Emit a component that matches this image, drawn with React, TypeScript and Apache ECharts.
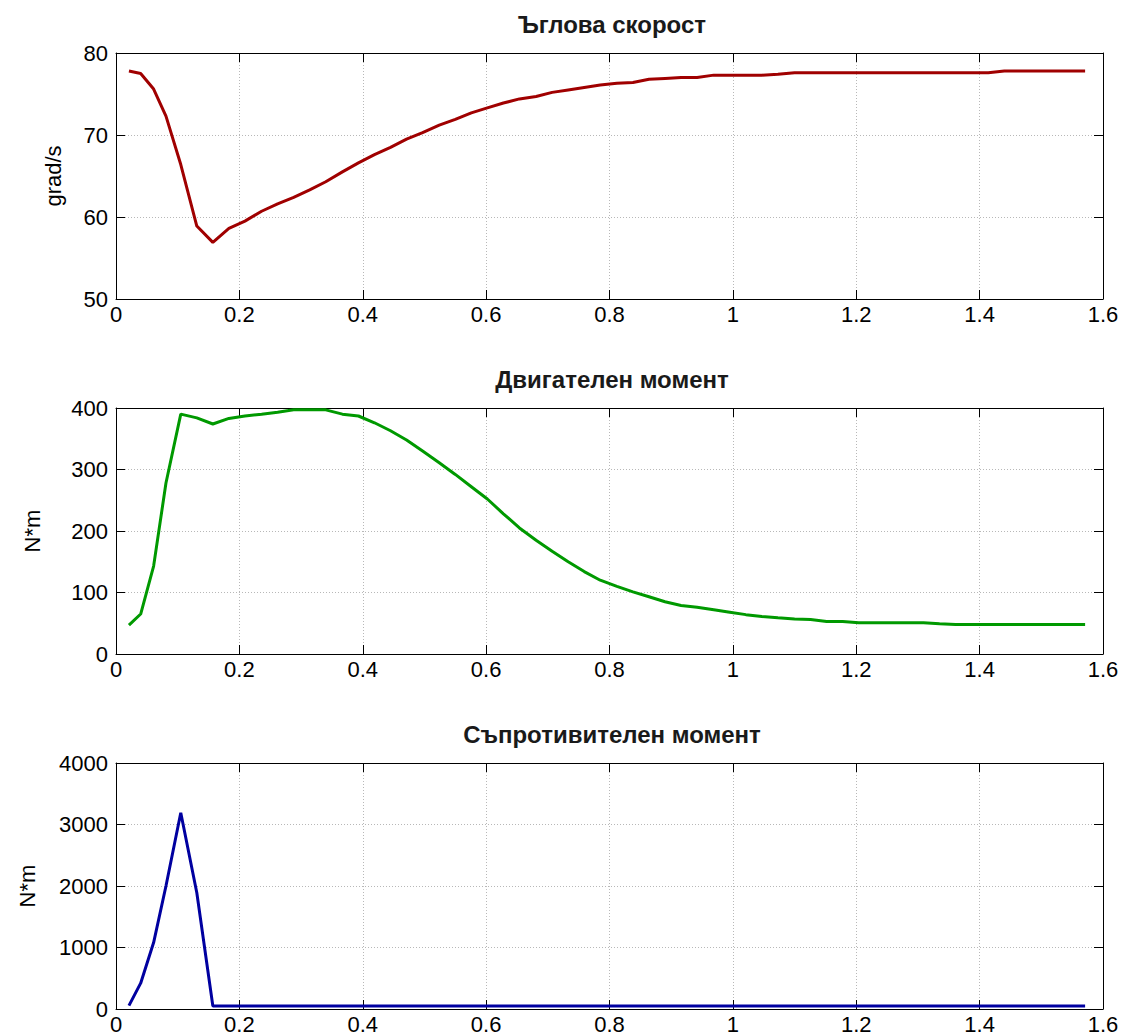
import React, { useEffect, useRef } from "react";
import * as echarts from "echarts";

const titles = ["Ъглова скорост", "Двигателен момент", "Съпротивителен момент"];
const yNames = ["grad/s", "N*m", "N*m"];

const time = [
  0.021, 0.04, 0.061, 0.081, 0.105, 0.131, 0.157, 0.183, 0.209, 0.236, 0.262, 0.288,
  0.314, 0.34, 0.367, 0.393, 0.419, 0.445, 0.471, 0.497, 0.524, 0.55, 0.576, 0.602,
  0.628, 0.654, 0.681, 0.707, 0.733, 0.759, 0.785, 0.812, 0.838, 0.864, 0.89, 0.916,
  0.942, 0.969, 0.995, 1.021, 1.047, 1.073, 1.1, 1.126, 1.152, 1.178, 1.204, 1.23,
  1.257, 1.283, 1.309, 1.335, 1.361, 1.388, 1.414, 1.44, 1.466, 1.492, 1.518, 1.545, 1.571,
];

const speed = [
  77.8, 77.5, 75.6, 72.3, 66.4, 58.9, 56.9, 58.6, 59.5, 60.7, 61.6, 62.4,
  63.3, 64.3, 65.5, 66.6, 67.6, 68.5, 69.5, 70.3, 71.2, 71.9, 72.7, 73.3,
  73.9, 74.4, 74.7, 75.2, 75.5, 75.8, 76.1, 76.3, 76.4, 76.8, 76.9, 77.0,
  77.0, 77.3, 77.3, 77.3, 77.3, 77.4, 77.6, 77.6, 77.6, 77.6, 77.6, 77.6,
  77.6, 77.6, 77.6, 77.6, 77.6, 77.6, 77.6, 77.8, 77.8, 77.8, 77.8, 77.8, 77.8,
];

const motorTorque = [
  47, 65, 143, 278, 390, 384, 374, 383, 387, 390, 393, 397,
  397, 397, 390, 387, 376, 363, 348, 330, 311, 292, 272, 252,
  228, 205, 185, 167, 150, 134, 120, 110, 101, 93, 85, 79,
  76, 72, 68, 64, 61, 59, 57, 56, 53, 53, 51, 51,
  51, 51, 51, 49, 48, 48, 48, 48, 48, 48, 48, 48, 48,
];

const resistTorque = [
  54, 420, 1080, 2000, 3190, 1890, 50, 50, 50, 50, 50, 50,
  50, 50, 50, 50, 50, 50, 50, 50, 50, 50, 50, 50,
  50, 50, 50, 50, 50, 50, 50, 50, 50, 50, 50, 50,
  50, 50, 50, 50, 50, 50, 50, 50, 50, 50, 50, 50,
  50, 50, 50, 50, 50, 50, 50, 50, 50, 50, 50, 50, 50,
];

const yMin = [50, 0, 0];
const yMax = [80, 400, 4000];
const yStep = [10, 100, 1000];
const colors = ["#a00000", "#009900", "#0000a0"];
const seriesData = [speed, motorTorque, resistTorque];

const FONT = "'Liberation Sans', Arial, Helvetica, sans-serif";

export default function App() {
  const ref = useRef<HTMLDivElement>(null);

  useEffect(() => {
    document.body.style.margin = "0";
    const chart = echarts.init(ref.current!, undefined, { renderer: "svg" });
    const tops = [53, 408, 763];
    const grids = tops.map((t) => ({ left: 116, width: 987, top: t, height: 246 }));
    const nameGaps = [52, 73, 78];

    const xAxes: any[] = [];
    const yAxes: any[] = [];
    const series: any[] = [];
    const graphics: any[] = [];

    for (let i = 0; i < 3; i++) {
      const common = {
        gridIndex: i,
        type: "value",
        min: 0,
        max: 1.6,
        interval: 0.2,
        axisLine: { show: true, onZero: false, lineStyle: { color: "#000", width: 1 } },
        axisTick: { show: true, inside: true, length: 9, lineStyle: { color: "#000" } },
      };
      xAxes.push({
        ...common,
        position: "bottom",
        axisLabel: {
          show: true,
          color: "#000",
          fontSize: 22,
          fontFamily: FONT,
          margin: 4,
          formatter: (v: number) => String(+v.toFixed(1)),
        },
        splitLine: { show: true, lineStyle: { color: "#b8b8b8", type: [1, 2], width: 1 } },
      });
      xAxes.push({
        ...common,
        position: "top",
        axisLabel: { show: false },
        splitLine: { show: false },
      });
      const ycommon = {
        gridIndex: i,
        type: "value",
        min: yMin[i],
        max: yMax[i],
        interval: yStep[i],
        axisLine: { show: true, onZero: false, lineStyle: { color: "#000", width: 1 } },
        axisTick: { show: true, inside: true, length: 9, lineStyle: { color: "#000" } },
      };
      yAxes.push({
        ...ycommon,
        position: "left",
        name: yNames[i],
        nameLocation: "middle",
        nameGap: nameGaps[i],
        nameRotate: 90,
        nameTextStyle: { color: "#000", fontSize: 22, fontFamily: FONT },
        axisLabel: {
          show: true,
          color: "#000",
          fontSize: 22,
          fontFamily: FONT,
          margin: 8,
          formatter: (v: number) => String(v),
        },
        splitLine: { show: true, lineStyle: { color: "#b8b8b8", type: [1, 2], width: 1 } },
      });
      yAxes.push({
        ...ycommon,
        position: "right",
        axisLabel: { show: false },
        splitLine: { show: false },
      });
      series.push({
        type: "line",
        xAxisIndex: 2 * i,
        yAxisIndex: 2 * i,
        data: time.map((t, k) => [t, seriesData[i][k]]),
        showSymbol: false,
        symbol: "none",
        lineStyle: { color: colors[i], width: 3 },
        itemStyle: { color: colors[i] },
      });
      graphics.push({
        type: "text",
        x: 612,
        y: tops[i] - 29,
        style: {
          text: titles[i],
          fill: "#1a1a1a",
          font: `bold 24px ${FONT}`,
          align: "center",
          verticalAlign: "middle",
        },
      });
    }

    chart.setOption({
      animation: false,
      backgroundColor: "#fff",
      grid: grids,
      xAxis: xAxes,
      yAxis: yAxes,
      series,
      graphic: graphics,
    });
    return () => chart.dispose();
  }, []);

  return <div ref={ref} style={{ width: 1123, height: 1036 }} />;
}
